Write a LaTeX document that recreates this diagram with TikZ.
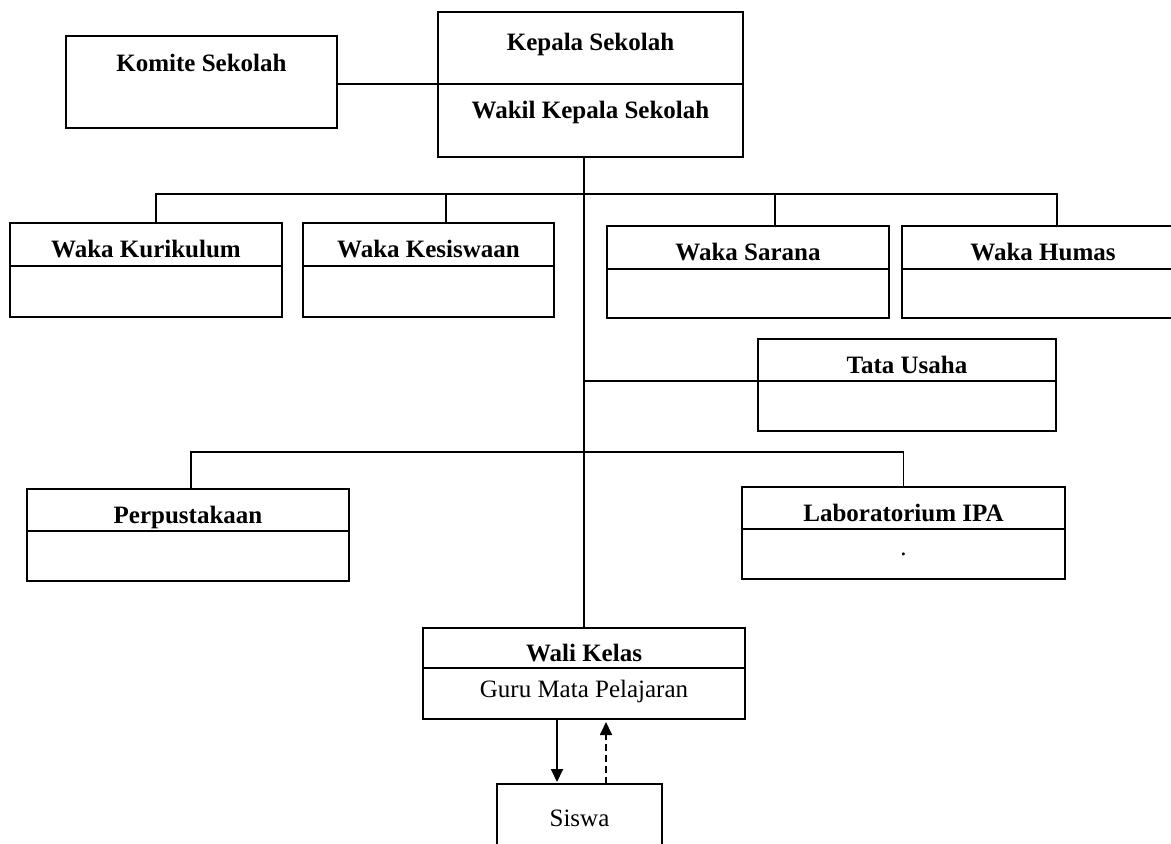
\documentclass[tikz,border=0pt]{standalone}
\usepackage{fontspec}
\setmainfont{Liberation Serif}
\usetikzlibrary{positioning, arrows.meta}
\begin{document}
\begin{tikzpicture}[
      x = 1pt, y = -1pt,
      head/.style = {
        rectangle,
        draw = black, line width = 1.8pt,
        font = \fontsize{25}{30}\selectfont\bfseries,
        anchor = north west,
        minimum height = 42pt,
        inner sep = 0pt,
        outer sep = 0pt,
        text height = 26.6pt,
        text depth = 0pt,
      },
      body/.style = {
        rectangle,
        draw = black, line width = 1.8pt,
        font = \fontsize{25}{30}\selectfont,
        minimum height = 50pt,
        inner sep = 0pt,
        outer sep = 0pt,
      },
      box/.style = {
        rectangle,
        draw = black, line width = 1.8pt,
        font = \fontsize{25}{30}\selectfont,
        anchor = north west,
        inner sep = 0pt,
        outer sep = 0pt,
      },
      link/.style = {
        draw = black, line width = 1.8pt,
      },
      tip/.style = {
        -{Triangle[length = 13pt, width = 12pt]},
      },
    ]
    \useasboundingbox (0,0) rectangle (1171,844);
    \clip (0,0) rectangle (1171,844);

    % top
    \node[box, font = \fontsize{25}{30}\selectfont\bfseries, minimum width = 271pt, minimum height = 92pt,
      text height = 18pt, text depth = 38.4pt] (komite) at (66,36) {Komite Sekolah};
    \node[head, minimum width = 305pt, minimum height = 72pt,
      text height = 18pt, text depth = 13.4pt] (kplH) at (438,12) {Kepala Sekolah};
    \node[body, font = \fontsize{25}{30}\selectfont\bfseries, minimum width = 305pt, minimum height = 73pt,
      text height = 18pt, text depth = 22.4pt, below = 0pt of kplH] (kplB) {Wakil Kepala Sekolah};

    % waka
    \node[head, minimum width = 272pt, minimum height = 43pt] (kurH) at (10,223) {Waka Kurikulum};
    \node[body, minimum width = 272pt, minimum height = 51pt, below = 0pt of kurH] (kurB) {};
    \node[head, minimum width = 251pt, minimum height = 43pt] (kesH) at (303,223) {Waka Kesiswaan};
    \node[body, minimum width = 251pt, minimum height = 51pt, below = 0pt of kesH] (kesB) {};
    \node[head, minimum width = 282pt, minimum height = 43pt] (sarH) at (607,226) {Waka Sarana};
    \node[body, minimum width = 282pt, minimum height = 49pt, below = 0pt of sarH] (sarB) {};
    \node[head, minimum width = 282pt, minimum height = 43pt] (humH) at (902,226) {Waka Humas};
    \node[body, minimum width = 282pt, minimum height = 49pt, below = 0pt of humH] (humB) {};

    \node[head, minimum width = 298pt] (tuH) at (758,339) {Tata Usaha};
    \node[body, minimum width = 298pt, below = 0pt of tuH] (tuB) {};

    \node[head, minimum width = 322pt] (perH) at (27,489) {Perpustakaan};
    \node[body, minimum width = 322pt, below = 0pt of perH] (perB) {};
    \node[head, minimum width = 323pt] (labH) at (742,487) {Laboratorium IPA};
    \node[body, minimum width = 323pt, below = 0pt of labH] (labB) {.};

    % kelas
    \node[head, minimum width = 322pt, minimum height = 40pt] (waliH) at (423,628) {Wali Kelas};
    \node[body, minimum width = 322pt, minimum height = 51pt,
      text height = 18pt, text depth = 10.4pt, below = 0pt of waliH] (waliB) {Guru Mata Pelajaran};
    \node[box, minimum width = 165pt, minimum height = 68pt] (siswa) at (497,784) {Siswa};

    \coordinate (busA) at (585,194);
    \coordinate (busB) at (585,452);

    \begin{scope}[link]
      \draw (kplB.north west) -- (kplB.north west -| komite.east);
      \draw (kplB.south -| waliH.north) -- (waliH.north);

      \draw ([xshift = 10pt]kurH.north) |- (busA) -| ([xshift = 14pt]humH.north);
      \draw ([xshift = 17.5pt]kesH.north) -- ([xshift = 17.5pt]kesH.north |- busA);
      \draw ([xshift = 27pt]sarH.north) -- ([xshift = 27pt]sarH.north |- busA);

      \draw (tuH.south west) -- (tuH.south west -| waliH.north);

      \draw ([xshift = 3pt]perH.north) |- (busB) -| (labH.north);

      \draw[tip, shorten > = 2pt] ([xshift = -27pt]waliB.south) -- ([xshift = -27pt]waliB.south |- siswa.north);
      \draw[tip, dash pattern = on 7pt off 4pt, shorten > = 3pt] ([xshift = 22pt]waliB.south |- siswa.north) -- ([xshift = 22pt]waliB.south);
    \end{scope}

  \end{tikzpicture}
\end{document}
